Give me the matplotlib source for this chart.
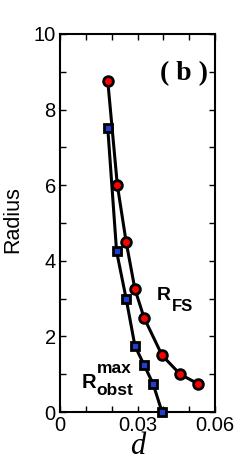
import matplotlib
matplotlib.use("Agg")
import matplotlib.pyplot as plt
from matplotlib.ticker import MultipleLocator

plt.rcParams['font.family'] = ['Liberation Sans', 'DejaVu Sans']

d_fs = [0.0185, 0.0222, 0.0256, 0.0290, 0.0325, 0.0395, 0.0465, 0.0533]
r_fs = [8.75, 6.0, 4.5, 3.25, 2.5, 1.5, 1.0, 0.75]
d_obst = [0.0185, 0.0219, 0.0256, 0.0290, 0.0325, 0.0360, 0.0395]
r_obst = [7.5, 4.25, 3.0, 1.75, 1.25, 0.75, 0.0]
xticks = [0, 0.03, 0.06]
xticklabels = ["0", "0.03", "0.06"]
yticks = [0, 2, 4, 6, 8, 10]

fig = plt.figure(figsize=(2.43, 4.67), dpi=100)
ax = fig.add_axes([60/243, 1-412/467, 155/243, 378/467])

ax.plot(d_fs, r_fs, '-', color='black', lw=2.2, marker='o', ms=7,
        mfc='red', mec='black', mew=2.0, zorder=3)
ax.plot(d_obst, r_obst, '-', color='black', lw=2.2, marker='s', ms=6,
        mfc='#1f3fd0', mec='black', mew=2.0, zorder=3, clip_on=False)

ax.set_xlim(0, 0.06)
ax.set_ylim(0, 10)
ax.set_xticks(xticks)
ax.set_xticklabels(xticklabels)
ax.set_yticks(yticks)
ax.xaxis.set_minor_locator(MultipleLocator(0.01))
ax.yaxis.set_minor_locator(MultipleLocator(1))
ax.tick_params(which='both', direction='in', top=True, right=True,
               labelsize=14.5, width=1)
ax.tick_params(which='major', length=4, pad=3)
ax.tick_params(which='minor', length=4)
for s in ax.spines.values():
    s.set_linewidth(1.5)

ax.set_ylabel("Radius", fontsize=15.5)
ax.yaxis.set_label_coords(-0.24, 0.51)
ax.set_xlabel("d", fontsize=22, labelpad=-2, family='Liberation Serif',
              style='italic')

ax.text(0.0573, 8.95, "( b )", fontsize=20, fontweight='bold',
        family='Liberation Serif', ha='right', va='center')

ax.text(0.0375, 2.96, "R", fontsize=14, fontweight='bold', va='baseline', ha='left')
ax.text(0.0433, 2.67, "FS", fontsize=12, fontweight='bold', va='baseline', ha='left')

ax.text(0.0083, 0.635, "R", fontsize=14.5, fontweight='bold', va='baseline', ha='left')
ax.text(0.0141, 1.03, "max", fontsize=12.5, fontweight='bold', va='baseline', ha='left')
ax.text(0.0141, 0.45, "obst", fontsize=12.5, fontweight='bold', va='baseline', ha='left')

fig.savefig("out.png", dpi=100)
